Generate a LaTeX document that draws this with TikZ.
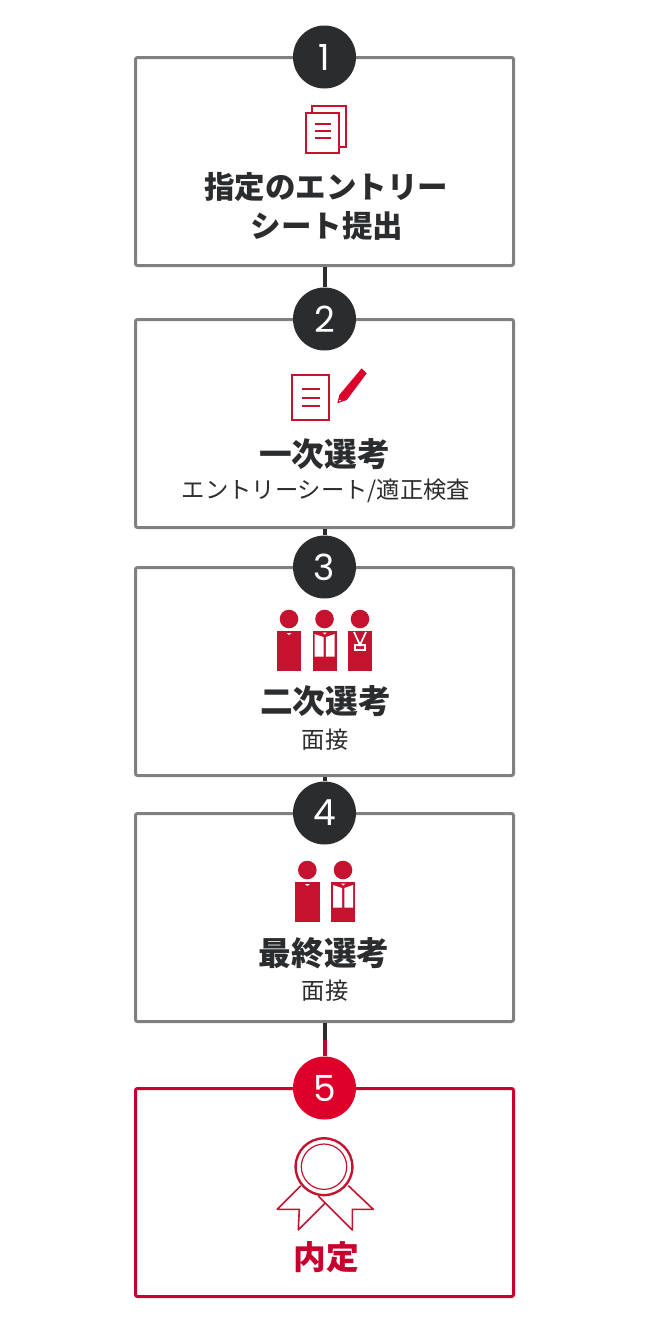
\documentclass[tikz,border=0pt]{standalone}
\usepackage{fontspec}
\setmainfont{Noto Sans CJK JP}
\newfontfamily\numfont{Poppins}
\definecolor{darkc}{HTML}{2B2C2E}
\definecolor{grayc}{HTML}{808080}
\definecolor{iconc}{HTML}{C4122F}
\definecolor{redc}{HTML}{C8002D}
\definecolor{numred}{HTML}{DC002B}
\tikzset{
  stepbox/.style={draw=grayc,line width=3pt,rounded corners=2pt,minimum width=378pt,minimum height=208pt,inner sep=0pt,anchor=north west},
  numcirc/.style={circle,fill=darkc,minimum size=63pt,inner sep=0pt,text=white,font=\numfont\fontsize{36}{36}\selectfont},
  title/.style={font=\bfseries\fontsize{32.7}{32.7}\selectfont,text=darkc,inner sep=0pt},
  bigtitle/.style={title,font=\bfseries\fontsize{30.5}{30.5}\selectfont},
  subtitle/.style={font=\fontsize{23.3}{23.3}\selectfont,text=darkc,inner sep=0pt},
  link/.style={draw=darkc,line width=4pt},
  icon/.style={draw=iconc,line width=1.8pt},
  medal/.style={draw=iconc,line width=1.6pt,line join=round},
  pics/person/.style={code={
    \fill[iconc] (0,0) circle (9.3);
    \fill[iconc] (-12,12) rectangle (12.4,52);
  }},
  pics/shirt/.style={code={
    \fill[white] (-10,15) -- (-1,18) -- (-1,37.5) -- (-10,37.5) -- cycle;
    \fill[white] (10,15) -- (1.4,18) -- (1.4,37.5) -- (10,37.5) -- cycle;
    \fill[white] (-2,13.5) -- (2.4,13.5) -- (.2,15.5) -- cycle;
  }},
  pics/collar/.style={code={
    \fill[white] (-2.4,14) -- (2.6,14) -- (.1,16) -- cycle;
  }},
  pics/lanyard/.style={code={
    \draw[white,line width=1.7pt] (-6,13) -- (0,26) -- (6,13);
    \draw[white,line width=1.7pt] (-5,26) rectangle (5,31);
  }}
}
\begin{document}
\begin{tikzpicture}[x=1pt,y=-1pt]
\useasboundingbox (0,0) rectangle (650,1336);
% boxes
\node[stepbox] (box1) at (134,56) {};
\node[stepbox] (box2) at (134,318) {};
\node[stepbox] (box3) at (134,566) {};
\node[stepbox] (box4) at (134,812) {};
\node[stepbox,draw=redc] (box5) at (134,1087) {};
% numbers
\node[numcirc] (num1) at (324.5,57) {1};
\node[numcirc] (num2) at (324.5,319) {2};
\node[numcirc] (num3) at (324.5,567) {3};
\node[numcirc] (num4) at (324.5,813) {4};
\node[numcirc,fill=numred] (num5) at (324.5,1088) {5};
\coordinate (split) at (324.5,1040);
% links
\draw[link] (box1.south) -- (num2.north);
\draw[link] (box2.south) -- (num3.north);
\draw[link] (box3.south) -- (num4.north);
\draw[link] (box4.south) -- (split);
\draw[link,draw=redc] (split) -- (num5.north);
% texts
\node[bigtitle] (title1a) at (326,187) {指定のエントリー};
\node[bigtitle] (title1b) at (327,226) {シート提出};
\node[title] (title2) at (324.5,454) {一次選考};
\node[subtitle] (sub2) at (326,491) {エントリーシート/適正検査};
\node[title] (title3) at (325.5,701) {二次選考};
\node[subtitle] (sub3) at (325,740) {面接};
\node[title] (title4) at (324,953) {最終選考};
\node[subtitle] (sub4) at (325,991) {面接};
\node[title,text=redc] (title5) at (326.5,1257) {内定};
% sheets
\draw[icon] (311.7,112.7) -- (311.7,105.7) -- (345.7,105.7) -- (345.7,146.7) -- (339.3,146.7);
\draw[icon] (305.7,112.7) rectangle (339.3,153.3);
\foreach \y in {124.3,131,137.7}
  \draw[icon] (315,\y) -- (331,\y);
% sheet and pen
\draw[icon] (291.7,375) rectangle (329.3,420);
\foreach \y in {389.3,397.7,406}
  \draw[icon] (302.3,\y) -- (320,\y);
\fill[numred] (337.3,403.3) -- (339.3,395) -- (361.7,368.3) -- (366.7,373.3) -- (346.7,400) -- cycle;
\fill[white] (340,400.5) circle (.9);
% people
\pic at (289,619) {person};
\pic at (289,619) {collar};
\pic at (324.5,619) {person};
\pic at (324.5,619) {shirt};
\pic at (360,619) {person};
\pic at (360,619) {lanyard};
\pic at (307.3,870) {person};
\pic at (307.3,870) {collar};
\pic at (343,870) {person};
\pic at (343,870) {shirt};
% medal
\draw[draw=iconc,line width=2.4pt] (324,1166.7) circle (28.4);
\draw[draw=iconc,line width=1.2pt] (324,1166.7) circle (22.7);
\draw[medal] (300.7,1185.7) -- (277.3,1209.3) -- (299.3,1209.3) -- (298.3,1230) -- (325,1203.3);
\draw[medal] (348.3,1185.7) -- (373.3,1209.3) -- (352.3,1209.3) -- (352.3,1230) -- (318.3,1196);
\end{tikzpicture}
\end{document}
